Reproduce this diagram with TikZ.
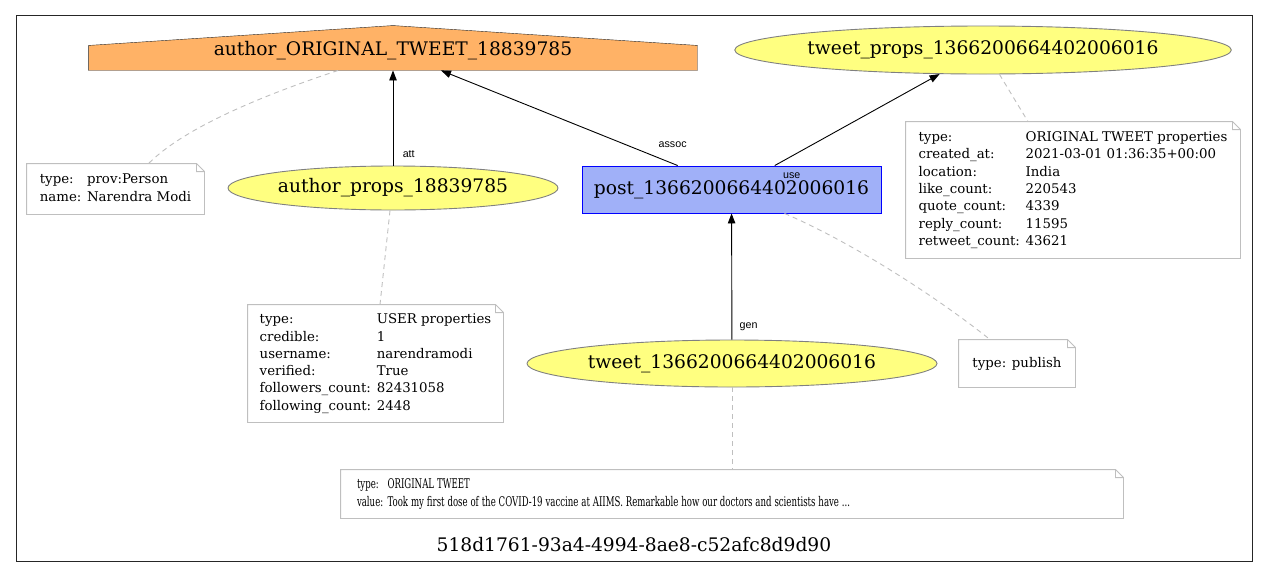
\documentclass[tikz,border=0pt]{standalone}
\usepackage{fontspec}
\usepackage{graphicx}
\setmainfont{DejaVu Serif}
\newfontfamily\edgefont{Liberation Sans}
\usetikzlibrary{arrows.meta,shapes.geometric,backgrounds}

\definecolor{housefill}{RGB}{255,178,102}
\definecolor{propfill}{RGB}{255,255,128}
\definecolor{postfill}{RGB}{160,176,248}
\definecolor{notegray}{RGB}{191,191,191}

\begin{document}
\begin{tikzpicture}[x=1pt,y=-1pt,>={Triangle[length=10pt,width=7.5pt]},
  line width=0.9pt,
  lbl/.style={font=\fontsize{18.67}{22}\selectfont},
  props/.style={ellipse,draw=gray,fill=propfill,inner sep=0pt,lbl},
  postbox/.style={draw=blue,fill=postfill,inner sep=0pt,lbl},
  notebox/.style={inner sep=0pt,font=\fontsize{13.33}{17.3}\selectfont},
  edgelbl/.style={font=\edgefont\fontsize{10.7}{12}\selectfont},
  notelink/.style={draw=notegray,dash pattern=on 5pt off 4pt}]
\useasboundingbox (0,0) rectangle (1268,576);

% cluster frame
\node[draw=black!85,minimum width=1236pt,minimum height=546pt,inner sep=0pt] (cluster) at (634,288) {};
\node[lbl] (clabel) at (634,545) {518d1761-93a4-4994-8ae8-c52afc8d9d90};

% main nodes
\node[lbl,minimum width=608pt,minimum height=38pt,inner sep=0pt] (author) at (393,51) {author\_ORIGINAL\_TWEET\_18839785};
\node[props,minimum width=492pt,minimum height=48pt] (tprops) at (983,50) {tweet\_props\_1366200664402006016};
\node[props,minimum width=330pt,minimum height=44pt] (aprops) at (393,188) {author\_props\_18839785};
\node[postbox,minimum width=299pt,minimum height=47pt] (post) at (731.5,189.5) {post\_1366200664402006016};
\node[props,minimum width=410pt,minimum height=47pt] (tweet) at (732,363.5) {tweet\_1366200664402006016};

\begin{scope}[on background layer]
\filldraw[draw=black!85,fill=housefill] (author.south west) -- ([yshift=25pt]author.south west)
  -- ([yshift=6pt]author.north) -- ([yshift=25pt]author.south east) -- (author.south east) -- cycle;
\end{scope}

% notes
\node[notebox,minimum width=177pt,minimum height=50pt] (person) at (115.5,189) {%
  \begin{tabular}{@{}l@{ }l@{}}type: & prov:Person\\ name: & Narendra Modi\end{tabular}};
\node[notebox,minimum width=255pt,minimum height=117pt] (uprops) at (375.5,363.5) {%
  \begin{tabular}{@{}l@{ }l@{}}type: & USER properties\\ credible: & 1\\ username: & narendramodi\\
  verified: & True\\ followers\_count: & 82431058\\ following\_count: & 2448\end{tabular}};
\node[notebox,minimum width=334pt,minimum height=136pt] (tpnote) at (1073,190) {%
  \begin{tabular}{@{}l@{ }l@{}}type: & ORIGINAL TWEET properties\\ created\_at: & 2021-03-01 01:36:35+00:00\\
  location: & India\\ like\_count: & 220543\\ quote\_count: & 4339\\ reply\_count: & 11595\\
  retweet\_count: & 43621\end{tabular}};
\node[notebox,minimum width=116pt,minimum height=47pt] (pubnote) at (1017,363.5) {type: publish};
\node[notebox,inner xsep=16pt,text width=750pt,minimum height=48pt] (tnote) at (732,494) {%
  \scalebox{0.645}[1]{\begin{tabular}{@{}l@{ }l@{}}type: & ORIGINAL TWEET\\ value: & Took my first dose of the COVID-19 vaccine at AIIMS. Remarkable how our doctors and scientists have ...\end{tabular}}};

\foreach \n in {person,uprops,tpnote,pubnote,tnote}
  \draw[notegray] (\n.north west) -- ([xshift=-8pt]\n.north east) -- ([yshift=-8pt]\n.north east)
    -- (\n.south east) -- (\n.south west) -- cycle
    ([xshift=-8pt]\n.north east) |- ([yshift=-8pt]\n.north east);

% relations
\draw[->] (aprops) -- node[edgelbl,pos=0.12,right,xshift=6pt] {att} (author);
\draw[->] (post.156) -- node[edgelbl,pos=0.22,xshift=47pt] {assoc} ([xshift=48pt]author.south);
\draw[->] (post.29) -- node[edgelbl,at start,xshift=17pt,yshift=-10pt] {use} (tprops.-151);
\draw[->] (tweet) -- node[edgelbl,pos=0.1,right,xshift=4pt] {gen} (post);

% links to notes
\draw[notelink] ([xshift=-55pt]author.south) .. controls +(-60,20) and +(40,-40) .. ([xshift=33pt]person.north);
\draw[notelink] (tprops.-56) -- ([xshift=-45pt]tpnote.north);
\draw[notelink] ([xshift=-3pt]aprops.south) -- ([xshift=4.5pt]uprops.north);
\draw[notelink] ([xshift=53pt]post.south) .. controls +(70,30) and +(-50,-40) .. ([xshift=-27pt]pubnote.north);
\draw[notelink] (tweet.south) -- (tnote.north);
\end{tikzpicture}
\end{document}
